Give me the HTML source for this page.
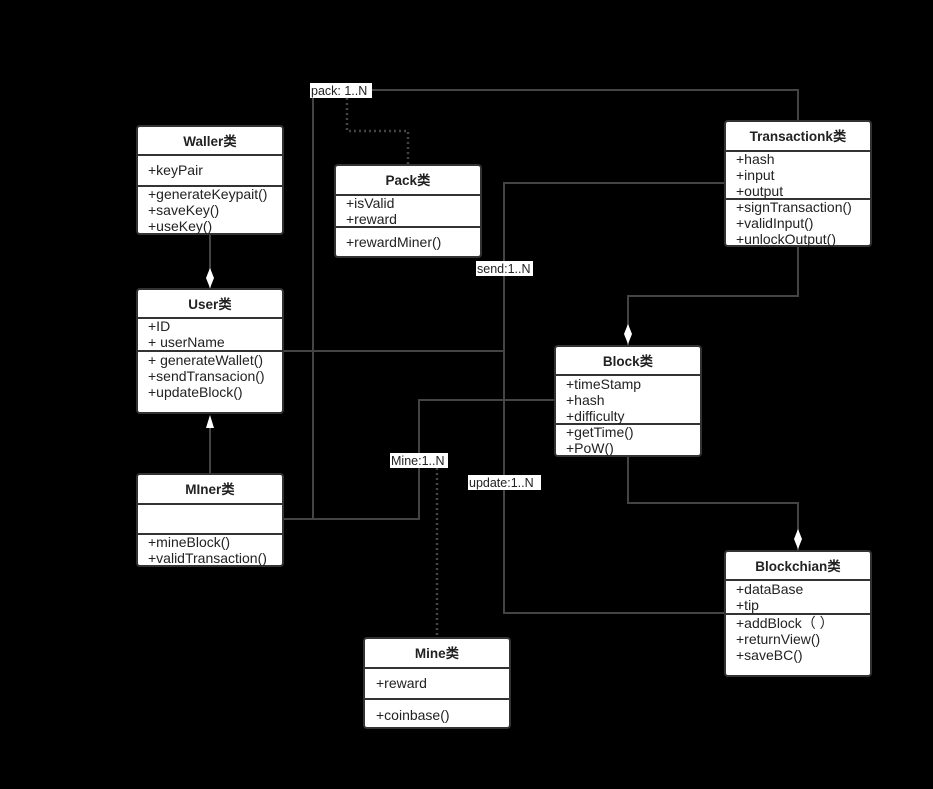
<!DOCTYPE html>
<html><head><meta charset="utf-8"><style>
html,body{margin:0;padding:0;background:#000;}
svg{display:block}
text{font-family:"Liberation Sans","Noto Sans CJK SC",sans-serif;font-size:14px;fill:#222}
.t{font-weight:bold;font-size:13.5px;text-anchor:middle}
.lt{font-size:12.5px}
.ln{stroke:#444;stroke-width:2;fill:none}
.dt{stroke:#444;stroke-width:2.5;fill:none;stroke-dasharray:2,3}
.bx{fill:#fff;stroke:#333;stroke-width:2}
.dv{stroke:#333;stroke-width:2}
.lb{fill:#fff}
</style></head><body>
<svg width="933" height="789" xmlns="http://www.w3.org/2000/svg">
<rect width="933" height="789" fill="#000"/>
<polyline class="ln" points="210,234 210,289"/>
<polyline class="ln" points="210,474 210,420"/>
<polyline class="ln" points="283,519 313,519 313,90 798,90 798,121"/>
<polyline class="dt" points="347,98 347,131 408,131 408,165"/>
<polyline class="ln" points="283,351 504,351"/>
<polyline class="ln" points="725,183 504,183 504,613 725,613"/>
<polyline class="ln" points="283,519 419,519 419,400 555,400"/>
<polyline class="dt" points="437,468 437,638"/>
<polyline class="ln" points="798,246 798,296 628,296 628,346"/>
<polyline class="ln" points="628,456 628,503 798,503 798,551"/>
<polygon points="210,268 214,278 210,288 206,278" fill="#fff"/>
<polygon points="628,324 632,334 628,344 624,334" fill="#fff"/>
<polygon points="798,529 802,539 798,549 794,539" fill="#fff"/>
<polygon points="210,415 214,428 206,428" fill="#fff"/>
<rect class="lb" x="310" y="83" width="62" height="15"/><text class="lt" x="311" y="95">pack: 1..N</text>
<rect class="lb" x="476" y="261" width="57" height="15"/><text class="lt" x="477" y="273">send:1..N</text>
<rect class="lb" x="390" y="453" width="58" height="15"/><text class="lt" x="391" y="465">Mine:1..N</text>
<rect class="lb" x="468" y="475" width="73" height="15"/><text class="lt" x="469" y="487">update:1..N</text>
<rect class="bx" x="137" y="126" width="146" height="108" rx="3"/>
<line class="dv" x1="137" y1="155" x2="283" y2="155"/><line class="dv" x1="137" y1="186" x2="283" y2="186"/>
<text class="t" x="210" y="146">Waller类</text>
<text x="148" y="175">+keyPair</text>
<text x="148" y="199">+generateKeypait()</text><text x="148" y="215">+saveKey()</text><text x="148" y="231">+useKey()</text>
<rect class="bx" x="335" y="165" width="146" height="92" rx="3"/>
<line class="dv" x1="335" y1="195" x2="481" y2="195"/><line class="dv" x1="335" y1="227" x2="481" y2="227"/>
<text class="t" x="408" y="185">Pack类</text>
<text x="346" y="208">+isValid</text><text x="346" y="224">+reward</text>
<text x="346" y="247">+rewardMiner()</text>
<rect class="bx" x="725" y="121" width="146" height="125" rx="3"/>
<line class="dv" x1="725" y1="151" x2="871" y2="151"/><line class="dv" x1="725" y1="199" x2="871" y2="199"/>
<text class="t" x="798" y="141">Transactionk类</text>
<text x="736" y="164">+hash</text><text x="736" y="180">+input</text><text x="736" y="196">+output</text>
<text x="736" y="212">+signTransaction()</text><text x="736" y="228">+validInput()</text><text x="736" y="244">+unlockOutput()</text>
<rect class="bx" x="137" y="289" width="146" height="124" rx="3"/>
<line class="dv" x1="137" y1="318" x2="283" y2="318"/><line class="dv" x1="137" y1="351" x2="283" y2="351"/>
<text class="t" x="210" y="309">User类</text>
<text x="148" y="331">+ID</text><text x="148" y="347">+ userName</text>
<text x="148" y="365">+ generateWallet()</text><text x="148" y="381">+sendTransacion()</text><text x="148" y="397">+updateBlock()</text>
<rect class="bx" x="555" y="346" width="146" height="110" rx="3"/>
<line class="dv" x1="555" y1="375" x2="701" y2="375"/><line class="dv" x1="555" y1="424" x2="701" y2="424"/>
<text class="t" x="628" y="366">Block类</text>
<text x="566" y="389">+timeStamp</text><text x="566" y="405">+hash</text><text x="566" y="421">+difficulty</text>
<text x="566" y="437">+getTime()</text><text x="566" y="453">+PoW()</text>
<rect class="bx" x="137" y="474" width="146" height="92" rx="3"/>
<line class="dv" x1="137" y1="504" x2="283" y2="504"/><line class="dv" x1="137" y1="534" x2="283" y2="534"/>
<text class="t" x="210" y="494">MIner类</text>
<text x="148" y="547">+mineBlock()</text><text x="148" y="563">+validTransaction()</text>
<rect class="bx" x="725" y="551" width="146" height="125" rx="3"/>
<line class="dv" x1="725" y1="580" x2="871" y2="580"/><line class="dv" x1="725" y1="614" x2="871" y2="614"/>
<text class="t" x="798" y="571">Blockchian类</text>
<text x="736" y="594">+dataBase</text><text x="736" y="610">+tip</text>
<text x="736" y="628">+addBlock（ ）</text><text x="736" y="644">+returnView()</text><text x="736" y="660">+saveBC()</text>
<rect class="bx" x="364" y="638" width="146" height="90" rx="3"/>
<line class="dv" x1="364" y1="668" x2="510" y2="668"/><line class="dv" x1="364" y1="699" x2="510" y2="699"/>
<text class="t" x="437" y="658">Mine类</text>
<text x="376" y="688">+reward</text>
<text x="376" y="720">+coinbase()</text>
</svg>
</body></html>
